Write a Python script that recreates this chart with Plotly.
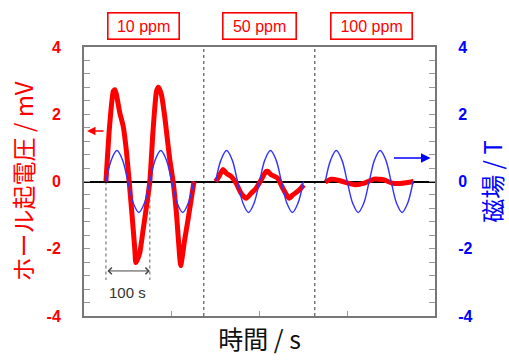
import plotly.graph_objects as go

# ---------------- data ----------------
# Hall voltage (mV), three concentrations, separated by None
hall_t = [50, 58, 66.7, 70.5, 74, 81.8, 89.4, 96.8, 103, 110.4, 115.9, 118, 119.5, 127, 134.8, 142.4, 150,
          157.5, 165.2, 169.7, 176.5, 184, 189.3, 195.5, 203, 210.6, 218, 220.5, 229.5, 237, 244.7, 250.7,
          None,
          300, 307.6, 316.7, 324, 335.6, 346.8, 358, 369.8, 381, 392.4, 403.8, 415, 419, 426.5, 441.6,
          453, 464.4, 468, 475.8, 491, 500.7,
          None,
          550, 563, 582, 601, 620, 639, 661, 684, 703, 726, 751]
hall_v = [0, 1.6, 2.68, 2.73, 2.58, 2.03, 1.64, 0.89, 0, -1.14, -2.03, -2.41, -2.38, -2.13, -1.44, -0.74, 0,
          1.54, 2.68, 2.80, 2.58, 1.93, 1.34, 0.65, 0, -0.93, -2.23, -2.50, -1.73, -1.14, -0.5, 0,
          None,
          0, 0.15, 0.36, 0.25, 0.15, -0.05, -0.35, -0.5, -0.35, -0.2, 0.05, 0.3, 0.3, 0.2, 0.1,
          -0.2, -0.45, -0.5, -0.4, -0.25, -0.1,
          None,
          -0.02, 0.07, 0.03, -0.05, -0.1, -0.05, 0.07, 0.05, -0.05, -0.05, 0]

# Magnetic field (T)
field_t = [50, 62.5, 75, 87.5, 100, 112.5, 125, 137.5, 150, 162.5, 175, 187.5, 200, 212.5, 225, 237.5, 250,
           None,
           300, 312.5, 325, 337.5, 350, 362.5, 375, 387.5, 400, 412.5, 425, 437.5, 450, 462.5, 475, 487.5, 500,
           None,
           550, 562.5, 575, 587.5, 600, 612.5, 625, 637.5, 650, 662.5, 675, 687.5, 700, 712.5, 725, 737.5, 750]
field_v = [0, 0.65, 0.92, 0.65, 0, -0.65, -0.92, -0.65, 0, 0.65, 0.92, 0.65, 0, -0.65, -0.92, -0.65, 0,
           None,
           0, 0.65, 0.92, 0.65, 0, -0.65, -0.92, -0.65, 0, 0.65, 0.92, 0.65, 0, -0.65, -0.92, -0.65, 0,
           None,
           0, 0.65, 0.92, 0.65, 0, -0.65, -0.92, -0.65, 0, 0.65, 0.92, 0.65, 0, -0.65, -0.92, -0.65, 0]

conc_labels = ["10 ppm", "50 ppm", "100 ppm"]
conc_centers = [136, 401, 655]
divider_t = [273, 526]
period_marks = [50, 150]
y_ticks = [-4, -2, 0, 2, 4]
y_ticktext = ["-4", "-2", "0", "2", "4"]

RED = "#ff0000"
BLUE = "#0000ff"
JP = "Noto Sans CJK JP"
AR = "Liberation Sans, Arial"

fig = go.Figure()
fig.add_trace(go.Scatter(x=field_t, y=field_v, mode="lines", yaxis="y2",
                         line=dict(color="#3333ff", width=1.4, shape="spline", smoothing=1.0),
                         connectgaps=False, showlegend=False, hoverinfo="skip"))
fig.add_trace(go.Scatter(x=hall_t, y=hall_v, mode="lines",
                         line=dict(color=RED, width=5, shape="spline", smoothing=0.5),
                         connectgaps=False, showlegend=False, hoverinfo="skip"))

shapes = []
for d in divider_t:
    shapes.append(dict(type="line", xref="x", yref="paper", x0=d, x1=d, y0=0, y1=1,
                       line=dict(color="#555555", width=1.2, dash="dot"), layer="below"))
for p in period_marks:
    shapes.append(dict(type="line", xref="x", yref="y", x0=p, x1=p, y0=0, y1=-2.93,
                       line=dict(color="#777777", width=1.2, dash="dot"), layer="below"))

annotations = []
widths = [70, 72, 80]
for lab, c, w in zip(conc_labels, conc_centers, widths):
    annotations.append(dict(x=c, y=1.078, xref="x", yref="paper", text=lab, showarrow=False,
                            font=dict(family=AR, size=16, color=RED), bordercolor=RED,
                            borderwidth=1.6, borderpad=0, width=w, height=25,
                            xanchor="center", yanchor="middle", bgcolor="white"))
# red arrow (left axis)
annotations.append(dict(x=7, y=1.5, ax=48, ay=1.5, xref="x", yref="y", axref="x", ayref="y",
                        text="", showarrow=True, arrowhead=2, arrowsize=1.2, arrowwidth=1.4,
                        arrowcolor=RED))
# blue arrow (right axis)
annotations.append(dict(x=790, y=0.7, ax=703, ay=0.7, xref="x", yref="y2", axref="x", ayref="y2",
                        text="", showarrow=True, arrowhead=2, arrowsize=1.2, arrowwidth=1.6,
                        arrowcolor=BLUE))
# 100 s double arrow
annotations.append(dict(x=150, y=-2.66, ax=50, ay=-2.66, xref="x", yref="y", axref="x", ayref="y",
                        text="", showarrow=True, arrowhead=4, startarrowhead=4, arrowside="end+start",
                        arrowsize=1.3, arrowwidth=1, arrowcolor="#444444"))
annotations.append(dict(x=98, y=-3.3, xref="x", yref="y", text="100 s", showarrow=False,
                        font=dict(family=AR, size=15, color="#333333")))

fig.update_layout(
    width=509, height=360,
    margin=dict(l=84, r=74, t=47, b=44, pad=0),
    paper_bgcolor="white", plot_bgcolor="white",
    shapes=shapes, annotations=annotations,
    xaxis=dict(range=[0, 800], tickvals=[200, 400, 600], showticklabels=False,
               ticks="inside", ticklen=5, tickcolor="#999999", automargin=False,
               showline=True, linecolor="#777777", linewidth=2, mirror=True,
               showgrid=False, zeroline=False,
               title=dict(text="時間 / s", font=dict(family=JP, size=25, color="#111111"), standoff=14)),
    yaxis=dict(range=[-4, 4], tickvals=y_ticks, ticktext=y_ticktext, automargin=False,
               ticks="inside", ticklen=6, tickcolor="#999999",
               minor=dict(dtick=0.4, ticks="inside", ticklen=6, tickcolor="#999999"),
               tickfont=dict(family=AR, size=16, color=RED, weight="bold"),
               ticklabelstandoff=18,
               showline=True, linecolor="#777777", linewidth=2,
               showgrid=False, zeroline=True, zerolinecolor="#000000", zerolinewidth=1.5,
               title=dict(text="ホール起電圧 / mV", font=dict(family=JP, size=24, color=RED), standoff=6)),
    yaxis2=dict(range=[-4, 4], tickvals=y_ticks, ticktext=y_ticktext, overlaying="y", side="right",
                ticks="inside", ticklen=6, tickcolor="#999999", automargin=False,
                minor=dict(dtick=0.4, ticks="inside", ticklen=6, tickcolor="#999999"),
                tickfont=dict(family=AR, size=16, color=BLUE, weight="bold"),
                ticklabelstandoff=18,
                showline=True, linecolor="#777777", linewidth=2,
                showgrid=False, zeroline=False,
                title=dict(text="磁場 / T", font=dict(family=JP, size=24, color=BLUE), standoff=14)),
)

fig.write_html("out.html")
